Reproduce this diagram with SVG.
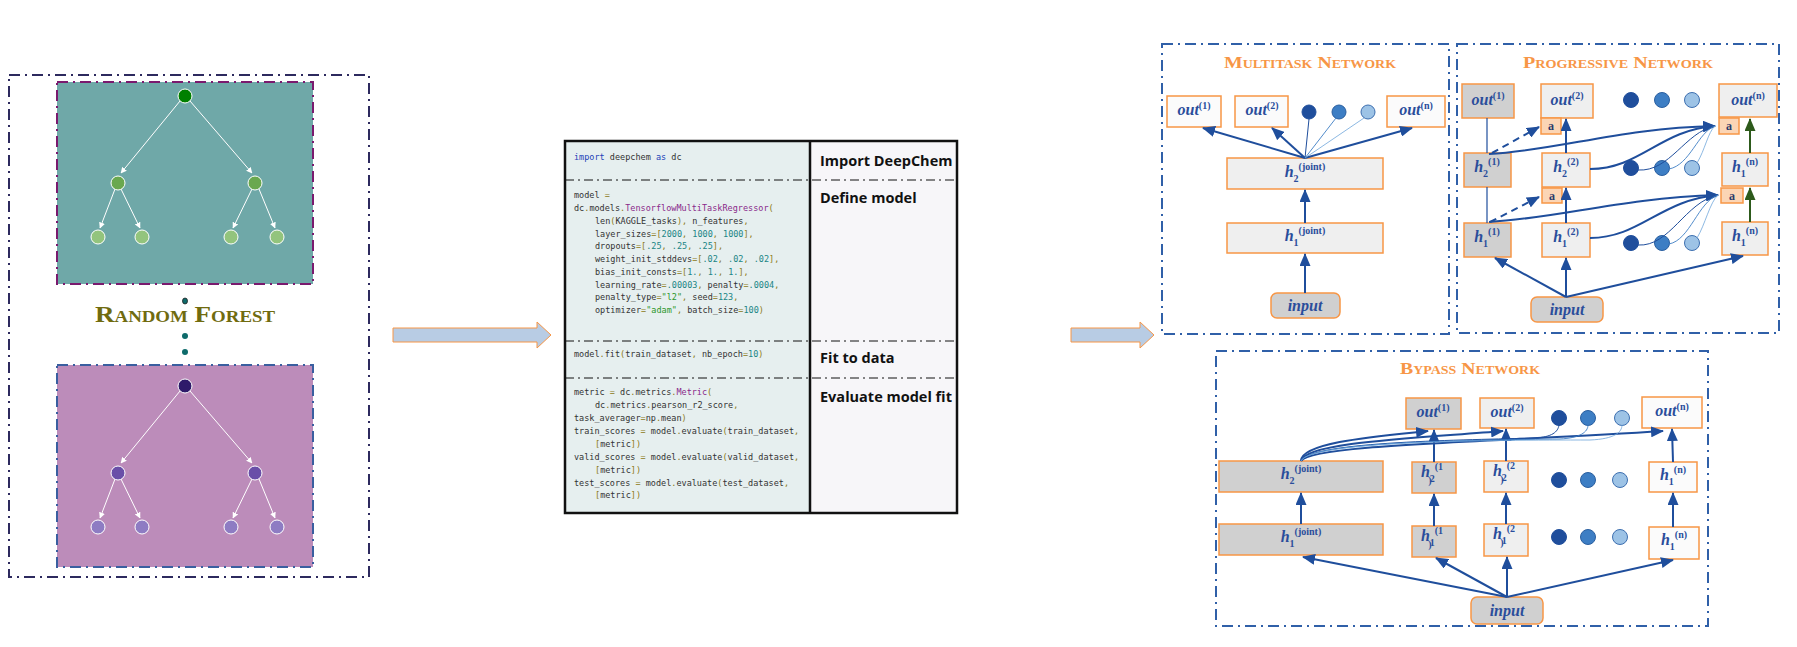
<svg xmlns="http://www.w3.org/2000/svg" width="1797" height="647" viewBox="0 0 1797 647">
<style>
.dd{fill:none;stroke-dasharray:11 5 2 5;}
.code text{font-family:"DejaVu Sans Mono","Liberation Mono",monospace;font-size:8.5px;fill:#333;}
.k{fill:#2243b8}.f{fill:#8a2a8a}.n{fill:#1a8585}.s{fill:#2a962a}.o{fill:#8c7a16}
.lbl{font-family:"Open Sans","Noto Sans",sans-serif;font-weight:bold;font-size:14.5px;fill:#111;}
.ttl{font-family:"Liberation Serif","DejaVu Serif",serif;font-weight:bold;font-variant:small-caps;fill:#f79646;font-size:17px;text-anchor:middle;}
.nd{stroke:#f79646;stroke-width:1.5;}
.lt{fill:#efefef}.gr{fill:#d0d0d0}.wh{fill:#fbfbfb}.pe{fill:#fbd5b5}
.tx{font-family:"Liberation Serif","DejaVu Serif",serif;font-weight:bold;font-style:italic;fill:#2a4d9b;font-size:16px;text-anchor:middle;}
.sp{font-style:normal;font-size:10px;}
.at{font-family:"Liberation Serif","DejaVu Serif",serif;font-weight:bold;fill:#2a3a6b;font-size:12px;text-anchor:middle;}
.c1{fill:#1f4e9c;stroke:#1f4e9c}.c2{fill:#3d7ec4;stroke:#2a5fa0}.c3{fill:#9dc3e6;stroke:#3d6fb0}
.cn{fill:none;stroke:#1f4e9c;stroke-width:2;}
.th{fill:none;stroke:#1f4e9c;stroke-width:1;}
.th2{fill:none;stroke:#3d7ec4;stroke-width:0.9;}
.th3{fill:none;stroke:#6ea6da;stroke-width:0.8;}
.tw{stroke:#fff;stroke-width:1;fill:none;}
</style>
<defs>
<marker id="ah" markerUnits="userSpaceOnUse" markerWidth="13" markerHeight="11" refX="12" refY="5.5" orient="auto"><path d="M0,0 L13,5.5 L0,11 z" fill="#1f4e9c"/></marker>
<marker id="ahg" markerUnits="userSpaceOnUse" markerWidth="13" markerHeight="11" refX="12" refY="5.5" orient="auto"><path d="M0,0 L13,5.5 L0,11 z" fill="#2d5a1b"/></marker>
<marker id="aw" markerUnits="userSpaceOnUse" markerWidth="6" markerHeight="6" refX="5.5" refY="3" orient="auto"><path d="M0,0 L6,3 L0,6 z" fill="#fff"/></marker>
</defs>
<rect width="1797" height="647" fill="#fff"/>

<!-- Random forest -->
<g id="random-forest">
<rect x="9" y="75" width="360" height="502" class="dd" stroke="#2d2a5e" stroke-width="2"/>
<g id="tree1">
<rect x="57" y="82" width="256" height="202" fill="#6fa8a8" stroke="#7a1a6e" stroke-width="2" stroke-dasharray="11 5 2 5"/>
<g class="tw" marker-end="url(#aw)">
<line x1="180" y1="101" x2="121" y2="173"/><line x1="190" y1="101" x2="252" y2="173"/>
<line x1="115" y1="189" x2="100" y2="228"/><line x1="121" y1="189" x2="140" y2="228"/>
<line x1="252" y1="189" x2="233" y2="228"/><line x1="259" y1="189" x2="275" y2="228"/>
</g>
<circle cx="185" cy="96" r="7" fill="#008000" stroke="#fff"/>
<circle cx="118" cy="183" r="7" fill="#6aa84f" stroke="#fff"/><circle cx="255" cy="183" r="7" fill="#6aa84f" stroke="#fff"/>
<g fill="#93c47d" stroke="#fff"><circle cx="98" cy="237" r="7"/><circle cx="142" cy="237" r="7"/><circle cx="231" cy="237" r="7"/><circle cx="277" cy="237" r="7"/></g>
</g>
<g id="tree2">
<rect x="57" y="365" width="256" height="202" fill="#bc8cba" stroke="#3a5fa0" stroke-width="2" stroke-dasharray="11 5 2 5"/>
<g class="tw" marker-end="url(#aw)">
<line x1="180" y1="391" x2="121" y2="463"/><line x1="190" y1="391" x2="252" y2="463"/>
<line x1="115" y1="479" x2="100" y2="518"/><line x1="121" y1="479" x2="140" y2="518"/>
<line x1="252" y1="479" x2="233" y2="518"/><line x1="259" y1="479" x2="275" y2="518"/>
</g>
<circle cx="185" cy="386" r="7" fill="#2e1a6a" stroke="#fff"/>
<circle cx="118" cy="473" r="7" fill="#6a4fa8" stroke="#fff"/><circle cx="255" cy="473" r="7" fill="#6a4fa8" stroke="#fff"/>
<g fill="#8e7cc3" stroke="#fff"><circle cx="98" cy="527" r="7"/><circle cx="142" cy="527" r="7"/><circle cx="231" cy="527" r="7"/><circle cx="277" cy="527" r="7"/></g>
</g>
<ellipse cx="185" cy="301" rx="2.5" ry="3" fill="#0e6b6b" stroke="#222" stroke-width="0.8"/>
<circle cx="185" cy="336" r="3" fill="#0e6b6b"/><circle cx="185" cy="352" r="3" fill="#0e6b6b"/>
<text x="185" y="322" text-anchor="middle" font-family="Liberation Serif, DejaVu Serif, serif" font-weight="bold" font-variant="small-caps" font-size="23" fill="#706b0f" textLength="180" lengthAdjust="spacingAndGlyphs">Random Forest</text>
</g>

<!-- block arrows -->
<g id="arrows-block" fill="#b8cce4" stroke="#f79646" stroke-width="1">
<path d="M393,328 L537,328 L537,322 L551,335 L537,348 L537,342 L393,342 z"/>
<path d="M1071,328 L1140,328 L1140,322 L1154,335 L1140,348 L1140,342 L1071,342 z"/>
</g>

<!-- code table -->
<g id="code-table">
<rect x="565" y="141" width="245" height="372" fill="#e6efef"/>
<rect x="810" y="141" width="147" height="372" fill="#f7f6f9"/>
<g stroke="#111" stroke-width="1" stroke-dasharray="9 4 2 4"><line x1="565" y1="180" x2="957" y2="180"/><line x1="565" y1="341" x2="957" y2="341"/><line x1="565" y1="378" x2="957" y2="378"/></g>
<rect x="565" y="141" width="392" height="372" fill="none" stroke="#111" stroke-width="2.5"/>
<line x1="810" y1="141" x2="810" y2="513" stroke="#111" stroke-width="2.5"/>
<g class="code" xml:space="preserve">
<text x="574" y="160"><tspan class="k">import</tspan> deepchem <tspan class="k">as</tspan> dc</text>
<text x="574" y="198">model <tspan class="o">=</tspan></text>
<text x="574" y="211">dc<tspan class="o">.</tspan>models<tspan class="o">.</tspan><tspan class="f">TensorflowMultiTaskRegressor</tspan><tspan class="o">(</tspan></text>
<text x="595" y="224">len<tspan class="o">(</tspan>KAGGLE_tasks<tspan class="o">),</tspan> n_features<tspan class="o">,</tspan></text>
<text x="595" y="237">layer_sizes<tspan class="o">=[</tspan><tspan class="n">2000</tspan><tspan class="o">,</tspan> <tspan class="n">1000</tspan><tspan class="o">,</tspan> <tspan class="n">1000</tspan><tspan class="o">],</tspan></text>
<text x="595" y="249">dropouts<tspan class="o">=[</tspan><tspan class="n">.25</tspan><tspan class="o">,</tspan> <tspan class="n">.25</tspan><tspan class="o">,</tspan> <tspan class="n">.25</tspan><tspan class="o">],</tspan></text>
<text x="595" y="262">weight_init_stddevs<tspan class="o">=[</tspan><tspan class="n">.02</tspan><tspan class="o">,</tspan> <tspan class="n">.02</tspan><tspan class="o">,</tspan> <tspan class="n">.02</tspan><tspan class="o">],</tspan></text>
<text x="595" y="275">bias_init_consts<tspan class="o">=[</tspan><tspan class="n">1.</tspan><tspan class="o">,</tspan> <tspan class="n">1.</tspan><tspan class="o">,</tspan> <tspan class="n">1.</tspan><tspan class="o">],</tspan></text>
<text x="595" y="288">learning_rate<tspan class="o">=</tspan><tspan class="n">.00003</tspan><tspan class="o">,</tspan> penalty<tspan class="o">=</tspan><tspan class="n">.0004</tspan><tspan class="o">,</tspan></text>
<text x="595" y="300">penalty_type<tspan class="o">=</tspan><tspan class="s">"l2"</tspan><tspan class="o">,</tspan> seed<tspan class="o">=</tspan><tspan class="n">123</tspan><tspan class="o">,</tspan></text>
<text x="595" y="313">optimizer<tspan class="o">=</tspan><tspan class="s">"adam"</tspan><tspan class="o">,</tspan> batch_size<tspan class="o">=</tspan><tspan class="n">100</tspan><tspan class="o">)</tspan></text>
<text x="574" y="357">model<tspan class="o">.</tspan>fit<tspan class="o">(</tspan>train_dataset<tspan class="o">,</tspan> nb_epoch<tspan class="o">=</tspan><tspan class="n">10</tspan><tspan class="o">)</tspan></text>
<text x="574" y="395">metric <tspan class="o">=</tspan> dc<tspan class="o">.</tspan>metrics<tspan class="o">.</tspan><tspan class="f">Metric</tspan><tspan class="o">(</tspan></text>
<text x="595" y="408">dc<tspan class="o">.</tspan>metrics<tspan class="o">.</tspan>pearson_r2_score<tspan class="o">,</tspan></text>
<text x="574" y="421">task_averager<tspan class="o">=</tspan>np<tspan class="o">.</tspan>mean<tspan class="o">)</tspan></text>
<text x="574" y="434">train_scores <tspan class="o">=</tspan> model<tspan class="o">.</tspan>evaluate<tspan class="o">(</tspan>train_dataset<tspan class="o">,</tspan></text>
<text x="595" y="447"><tspan class="o">[</tspan>metric<tspan class="o">])</tspan></text>
<text x="574" y="460">valid_scores <tspan class="o">=</tspan> model<tspan class="o">.</tspan>evaluate<tspan class="o">(</tspan>valid_dataset<tspan class="o">,</tspan></text>
<text x="595" y="473"><tspan class="o">[</tspan>metric<tspan class="o">])</tspan></text>
<text x="574" y="486">test_scores <tspan class="o">=</tspan> model<tspan class="o">.</tspan>evaluate<tspan class="o">(</tspan>test_dataset<tspan class="o">,</tspan></text>
<text x="595" y="498"><tspan class="o">[</tspan>metric<tspan class="o">])</tspan></text>
</g>
<text class="lbl" x="820" y="166">Import DeepChem</text>
<text class="lbl" x="820" y="203">Define model</text>
<text class="lbl" x="820" y="363">Fit to data</text>
<text class="lbl" x="820" y="402">Evaluate model fit</text>
</g>

<!-- Multitask -->
<g id="multitask">
<rect x="1162" y="44" width="287" height="290" class="dd" stroke="#3060a8" stroke-width="2"/>
<text class="ttl" x="1310" y="68" textLength="172" lengthAdjust="spacingAndGlyphs">Multitask Network</text>
<g id="mt-out1"><rect x="1167" y="96" width="54" height="31" class="nd wh"/><text class="tx" x="1194" y="115">out<tspan class="sp" dy="-6">(1)</tspan></text></g>
<g id="mt-out2"><rect x="1235" y="96" width="53" height="31" class="nd wh"/><text class="tx" x="1262" y="115">out<tspan class="sp" dy="-6">(2)</tspan></text></g>
<g id="mt-dots"><circle cx="1309" cy="112" r="7" class="c1"/><circle cx="1339" cy="112" r="7" class="c2"/><circle cx="1368" cy="112" r="7" class="c3"/></g>
<g id="mt-outn"><rect x="1387" y="96" width="58" height="31" class="nd wh"/><text class="tx" x="1416" y="115">out<tspan class="sp" dy="-6">(n)</tspan></text></g>
<g id="mt-h2"><rect x="1227" y="158" width="156" height="31" class="nd lt"/><text class="tx" x="1305" y="177">h<tspan class="sp" dy="5">2</tspan><tspan class="sp" dy="-12">(joint)</tspan></text></g>
<g id="mt-h1"><rect x="1227" y="223" width="156" height="30" class="nd lt"/><text class="tx" x="1305" y="241">h<tspan class="sp" dy="5">1</tspan><tspan class="sp" dy="-12">(joint)</tspan></text></g>
<g id="mt-input"><rect x="1271" y="293" width="69" height="25" rx="6" class="nd gr"/><text class="tx" x="1305" y="311">input</text></g>
</g>

<!-- Progressive -->
<g id="progressive">
<rect x="1457" y="44" width="322" height="289" class="dd" stroke="#3060a8" stroke-width="2"/>
<text class="ttl" x="1618" y="68" textLength="190" lengthAdjust="spacingAndGlyphs">Progressive Network</text>
<g id="pg-out1"><rect x="1462" y="84" width="52" height="34" class="nd gr"/><text class="tx" x="1488" y="105">out<tspan class="sp" dy="-6">(1)</tspan></text></g>
<g id="pg-out2"><rect x="1541" y="84" width="52" height="34" class="nd lt"/><text class="tx" x="1567" y="105">out<tspan class="sp" dy="-6">(2)</tspan></text></g>
<g id="pg-a1"><rect x="1541" y="118" width="20" height="16" class="nd pe"/><text class="at" x="1551" y="130">a</text></g>
<g id="pg-dots1"><circle cx="1631" cy="100" r="7.5" class="c1"/><circle cx="1662" cy="100" r="7.5" class="c2"/><circle cx="1692" cy="100" r="7.5" class="c3"/></g>
<g id="pg-outn"><rect x="1719" y="84" width="58" height="33" class="nd lt"/><text class="tx" x="1748" y="105">out<tspan class="sp" dy="-6">(n)</tspan></text></g>
<g id="pg-a2"><rect x="1719" y="118" width="20" height="16" class="nd pe"/><text class="at" x="1729" y="130">a</text></g>
<g id="pg-h21"><rect x="1464" y="153" width="47" height="34" class="nd gr"/><text class="tx" x="1487" y="172">h<tspan class="sp" dy="5">2</tspan><tspan class="sp" dy="-12">(1)</tspan></text></g>
<g id="pg-h22"><rect x="1542" y="153" width="48" height="34" class="nd lt"/><text class="tx" x="1566" y="172">h<tspan class="sp" dy="5">2</tspan><tspan class="sp" dy="-12">(2)</tspan></text></g>
<g id="pg-a3"><rect x="1542" y="188" width="20" height="15" class="nd pe"/><text class="at" x="1552" y="200">a</text></g>
<g id="pg-dots2"><circle cx="1631" cy="168" r="7.5" class="c1"/><circle cx="1662" cy="168" r="7.5" class="c2"/><circle cx="1692" cy="168" r="7.5" class="c3"/></g>
<g id="pg-h1n-up"><rect x="1722" y="153" width="46" height="33" class="nd lt"/><text class="tx" x="1745" y="172">h<tspan class="sp" dy="5">1</tspan><tspan class="sp" dy="-12">(n)</tspan></text></g>
<g id="pg-a4"><rect x="1721" y="188" width="22" height="15" class="nd pe"/><text class="at" x="1732" y="200">a</text></g>
<g id="pg-h11"><rect x="1464" y="223" width="47" height="34" class="nd gr"/><text class="tx" x="1487" y="242">h<tspan class="sp" dy="5">1</tspan><tspan class="sp" dy="-12">(1)</tspan></text></g>
<g id="pg-h12"><rect x="1542" y="223" width="48" height="34" class="nd lt"/><text class="tx" x="1566" y="242">h<tspan class="sp" dy="5">1</tspan><tspan class="sp" dy="-12">(2)</tspan></text></g>
<g id="pg-dots3"><circle cx="1631" cy="243" r="7.5" class="c1"/><circle cx="1662" cy="243" r="7.5" class="c2"/><circle cx="1692" cy="243" r="7.5" class="c3"/></g>
<g id="pg-h1n-lo"><rect x="1722" y="222" width="46" height="33" class="nd lt"/><text class="tx" x="1745" y="241">h<tspan class="sp" dy="5">1</tspan><tspan class="sp" dy="-12">(n)</tspan></text></g>
<g id="pg-input"><rect x="1531" y="297" width="72" height="25" rx="6" class="nd gr"/><text class="tx" x="1567" y="315">input</text></g>
</g>

<!-- Bypass -->
<g id="bypass">
<rect x="1216" y="351" width="492" height="275" class="dd" stroke="#3060a8" stroke-width="2"/>
<text class="ttl" x="1470" y="374" textLength="140" lengthAdjust="spacingAndGlyphs">Bypass Network</text>
<g id="bp-out1"><rect x="1406" y="398" width="55" height="31" class="nd gr"/><text class="tx" x="1433" y="417">out<tspan class="sp" dy="-6">(1)</tspan></text></g>
<g id="bp-out2"><rect x="1480" y="398" width="54" height="30" class="nd lt"/><text class="tx" x="1507" y="417">out<tspan class="sp" dy="-6">(2)</tspan></text></g>
<g id="bp-dots1"><circle cx="1559" cy="418" r="7.5" class="c1"/><circle cx="1588" cy="418" r="7.5" class="c2"/><circle cx="1622" cy="418" r="7.5" class="c3"/></g>
<g id="bp-outn"><rect x="1642" y="397" width="60" height="31" class="nd wh"/><text class="tx" x="1672" y="416">out<tspan class="sp" dy="-6">(n)</tspan></text></g>
<g id="bp-h2j"><rect x="1219" y="461" width="164" height="31" class="nd gr"/><text class="tx" x="1301" y="479">h<tspan class="sp" dy="5">2</tspan><tspan class="sp" dy="-12">(joint)</tspan></text></g>
<g id="bp-h21"><rect x="1412" y="462" width="44" height="31" class="nd gr"/><text class="tx" x="1432" y="477">h<tspan class="sp" dy="5">2</tspan><tspan class="sp" dy="-12">(1</tspan></text><text class="tx sp" x="1430" y="484">)</text></g>
<g id="bp-h22"><rect x="1484" y="461" width="44" height="31" class="nd lt"/><text class="tx" x="1504" y="476">h<tspan class="sp" dy="5">2</tspan><tspan class="sp" dy="-12">(2</tspan></text><text class="tx sp" x="1502" y="483">)</text></g>
<g id="bp-dots2"><circle cx="1559" cy="480" r="7.5" class="c1"/><circle cx="1588" cy="480" r="7.5" class="c2"/><circle cx="1620" cy="480" r="7.5" class="c3"/></g>
<g id="bp-h1n-up"><rect x="1649" y="462" width="48" height="30" class="nd wh"/><text class="tx" x="1673" y="480">h<tspan class="sp" dy="5">1</tspan><tspan class="sp" dy="-12">(n)</tspan></text></g>
<g id="bp-h1j"><rect x="1219" y="524" width="164" height="31" class="nd gr"/><text class="tx" x="1301" y="542">h<tspan class="sp" dy="5">1</tspan><tspan class="sp" dy="-12">(joint)</tspan></text></g>
<g id="bp-h11"><rect x="1412" y="526" width="44" height="31" class="nd gr"/><text class="tx" x="1432" y="541">h<tspan class="sp" dy="5">1</tspan><tspan class="sp" dy="-12">(1</tspan></text><text class="tx sp" x="1430" y="548">)</text></g>
<g id="bp-h12"><rect x="1484" y="524" width="44" height="32" class="nd lt"/><text class="tx" x="1504" y="539">h<tspan class="sp" dy="5">1</tspan><tspan class="sp" dy="-12">(2</tspan></text><text class="tx sp" x="1502" y="546">)</text></g>
<g id="bp-dots3"><circle cx="1559" cy="537" r="7.5" class="c1"/><circle cx="1588" cy="537" r="7.5" class="c2"/><circle cx="1620" cy="537" r="7.5" class="c3"/></g>
<g id="bp-h1n-lo"><rect x="1649" y="527" width="50" height="32" class="nd wh"/><text class="tx" x="1674" y="545">h<tspan class="sp" dy="5">1</tspan><tspan class="sp" dy="-12">(n)</tspan></text></g>
<g id="bp-input"><rect x="1471" y="597" width="72" height="27" rx="6" class="nd gr"/><text class="tx" x="1507" y="616">input</text></g>
</g>

<!-- connectors -->
<g id="connectors">
<!-- multitask -->
<g class="cn" marker-end="url(#ah)">
<line x1="1305" y1="158" x2="1203" y2="128"/>
<line x1="1305" y1="158" x2="1272" y2="128"/>
<line x1="1305" y1="158" x2="1412" y2="128"/>
<line x1="1305" y1="223" x2="1305" y2="190"/>
<line x1="1305" y1="293" x2="1305" y2="254"/>
</g>
<line x1="1305" y1="158" x2="1309" y2="119" class="th" stroke="#233"/>
<line x1="1305" y1="158" x2="1336" y2="118" class="th2"/>
<line x1="1305" y1="158" x2="1364" y2="118" class="th3"/>
<!-- progressive -->
<line x1="1487" y1="118" x2="1487" y2="153" stroke="#1f4e9c" stroke-width="1.2"/>
<line x1="1487" y1="187" x2="1487" y2="223" stroke="#1f4e9c" stroke-width="1.2"/>
<g class="cn" stroke-dasharray="7 5" marker-end="url(#ah)">
<line x1="1492" y1="153" x2="1539" y2="127"/>
<line x1="1490" y1="222" x2="1539" y2="197"/>
</g>
<g class="cn" marker-end="url(#ah)">
<line x1="1566" y1="297" x2="1495" y2="258"/>
<line x1="1566" y1="297" x2="1566" y2="258"/>
<line x1="1566" y1="297" x2="1743" y2="256"/>
<line x1="1566" y1="223" x2="1566" y2="188"/>
<line x1="1566" y1="153" x2="1566" y2="119"/>
<path d="M1489,154 C1560,150 1620,128 1715,126"/>
<path d="M1590,169 C1640,169 1660,130 1715,126"/>
<path d="M1489,222 C1560,218 1620,198 1718,195"/>
<path d="M1590,238 C1640,238 1660,200 1718,195"/>
</g>
<path d="M1638,170 C1670,172 1685,132 1715,126" class="th"/>
<path d="M1669,169 C1690,165 1698,132 1715,126" class="th2"/>
<path d="M1697,163 C1705,150 1708,132 1715,126" class="th3"/>
<path d="M1638,245 C1670,247 1685,202 1718,195" class="th"/>
<path d="M1669,244 C1690,240 1698,202 1718,195" class="th2"/>
<path d="M1697,238 C1705,225 1710,202 1718,195" class="th3"/>
<g fill="none" stroke="#2d5a1b" stroke-width="2" marker-end="url(#ahg)">
<line x1="1750" y1="222" x2="1750" y2="188"/>
<line x1="1750" y1="153" x2="1750" y2="119"/>
</g>
<!-- bypass -->
<g class="cn" marker-end="url(#ah)">
<line x1="1507" y1="597" x2="1303" y2="557"/>
<line x1="1507" y1="597" x2="1436" y2="558"/>
<line x1="1507" y1="597" x2="1507" y2="557"/>
<line x1="1507" y1="597" x2="1673" y2="560"/>
<line x1="1301" y1="524" x2="1301" y2="493"/>
<line x1="1434" y1="526" x2="1434" y2="494"/>
<line x1="1506" y1="524" x2="1506" y2="493"/>
<line x1="1673" y1="527" x2="1673" y2="493"/>
<line x1="1434" y1="462" x2="1434" y2="430"/>
<line x1="1506" y1="461" x2="1506" y2="429"/>
<line x1="1673" y1="462" x2="1672" y2="429"/>
<path d="M1301,461 C1301,442 1380,436 1428,431"/>
<path d="M1301,461 C1305,442 1420,438 1503,431"/>
<path d="M1301,461 C1310,444 1500,442 1663,431"/>
</g>
<path d="M1301,461 C1310,441 1470,440 1535,438 C1552,437 1558,432 1559,425" class="th"/>
<path d="M1301,461 C1310,441 1480,440 1560,439 C1580,438 1588,432 1588,425" class="th2"/>
<path d="M1301,461 C1310,441 1490,440 1590,440 C1615,439 1622,432 1622,425" class="th3"/>
</g>
</svg>
